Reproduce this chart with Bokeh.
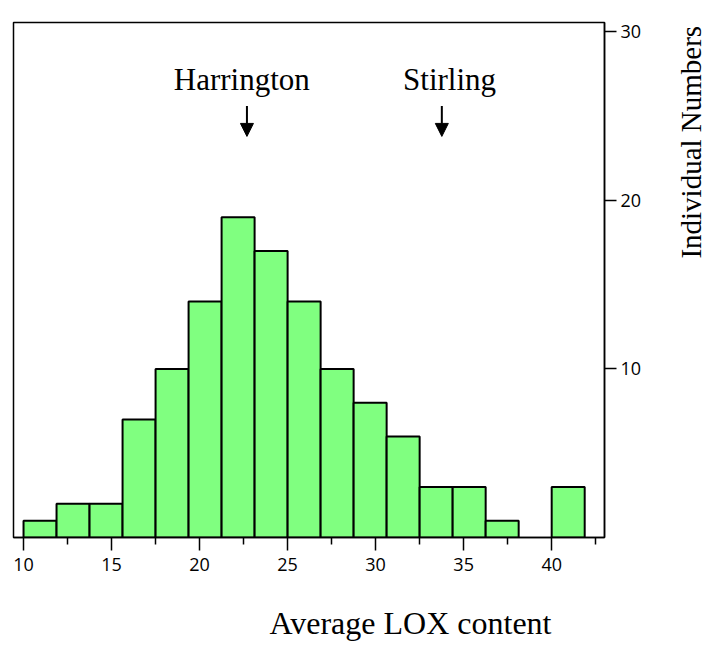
import math
from bokeh.plotting import figure
from bokeh.layouts import row, column
from bokeh.models import (ColumnDataSource, FixedTicker, Label, Arrow, NormalHead, Range1d)
from bokeh.embed import file_html
from bokeh.resources import INLINE

# ---- data ----
bin_edges = [10, 11.875, 13.75, 15.625, 17.5, 19.375, 21.25, 23.125, 25,
             26.875, 28.75, 30.625, 32.5, 34.375, 36.25, 38.125, 40, 41.875]
counts = [1, 2, 2, 7, 10, 14, 19, 17, 14, 10, 8, 6, 3, 3, 1, 0, 3]

x_major_ticks = [10, 15, 20, 25, 30, 35, 40]
x_minor_ticks = [12.5, 17.5, 22.5, 27.5, 32.5, 37.5, 42.5]
y_major_ticks = [10, 20, 30]

cultivar_names = ["Harrington", "Stirling"]
cultivar_lox = [22.69, 33.76]
cultivar_label_x = [22.4, 34.2]

x_title = "Average LOX content"
y_title = "Individual Numbers"

# ---- source ----
left = [bin_edges[i] for i in range(len(counts)) if counts[i] > 0]
right = [bin_edges[i + 1] for i in range(len(counts)) if counts[i] > 0]
top = [c for c in counts if c > 0]
src = ColumnDataSource(dict(left=left, right=right, top=top, bottom=[0] * len(top)))

MAIN_W, MAIN_H = 668, 585
p = figure(width=MAIN_W, height=MAIN_H, output_backend="svg", toolbar_location=None,
           x_range=Range1d(9.43, 43.0), y_range=Range1d(0, 30.56),
           y_axis_location="right",
           min_border_left=13, min_border_top=22, min_border_right=MAIN_W - 604,
           min_border_bottom=MAIN_H - 537)

p.quad(left="left", right="right", top="top", bottom="bottom", source=src,
       fill_color="#80FF80", line_color="black", line_width=2)

p.xgrid.visible = False
p.ygrid.visible = False
p.outline_line_color = "black"
p.outline_line_width = 1.5
p.background_fill_color = "white"
p.border_fill_color = "white"

tick_font = "Open Sans"
xa = p.xaxis[0]
xa.ticker = FixedTicker(ticks=x_major_ticks, minor_ticks=x_minor_ticks)
xa.major_tick_out = 13
xa.major_tick_in = 0
xa.minor_tick_out = 7
xa.minor_tick_in = 0
xa.axis_line_width = 1.5
xa.major_tick_line_width = 1.5
xa.minor_tick_line_width = 1.5
xa.major_label_text_font = tick_font
xa.major_label_text_font_size = "18px"
xa.major_label_text_color = "black"
xa.major_label_standoff = 7

ya = p.yaxis[0]
ya.ticker = FixedTicker(ticks=y_major_ticks, minor_ticks=[])
ya.major_tick_out = 12
ya.major_tick_in = 0
ya.minor_tick_out = 0
ya.minor_tick_in = 0
ya.axis_line_width = 1.5
ya.major_tick_line_width = 1.5
ya.major_label_text_font = tick_font
ya.major_label_text_font_size = "18px"
ya.major_label_text_color = "black"
ya.major_label_standoff = 4

serif = "Liberation Serif"

for name, xv, lx in zip(cultivar_names, cultivar_lox, cultivar_label_x):
    p.add_layout(Label(x=lx, y=27.15, text=name, text_font=serif,
                       text_font_size="31px", text_align="center",
                       text_baseline="alphabetic", text_color="black"))
    p.add_layout(Arrow(x_start=xv, y_start=25.6, x_end=xv, y_end=23.8,
                       line_width=2, line_color="black",
                       end=NormalHead(size=13, fill_color="black", line_color="black")))


def blank(w, h):
    f = figure(width=w, height=h, output_backend="svg", toolbar_location=None,
               x_range=Range1d(0, w), y_range=Range1d(0, h),
               min_border=0, min_border_left=0, min_border_right=0,
               min_border_top=0, min_border_bottom=0)
    f.axis.visible = False
    f.grid.visible = False
    f.outline_line_color = None
    f.background_fill_color = "white"
    f.border_fill_color = "white"
    return f


# y title panel (right of main plot)
YT_W = 39
py = blank(YT_W, MAIN_H)
py.add_layout(Label(x=22, y=MAIN_H - 136, text=y_title, text_font=serif,
                    text_font_size="29px", text_align="center",
                    text_baseline="middle", angle=math.pi / 2, text_color="black"))

# x title panel (below)
XT_H = 58
px = blank(MAIN_W + YT_W, XT_H)
px.add_layout(Label(x=410, y=21, text=x_title, text_font=serif,
                    text_font_size="32px", text_align="center",
                    text_baseline="alphabetic", text_color="black"))

layout = column(row(p, py, spacing=0), px, spacing=0)

open("out.html", "w").write(file_html(layout, INLINE))
